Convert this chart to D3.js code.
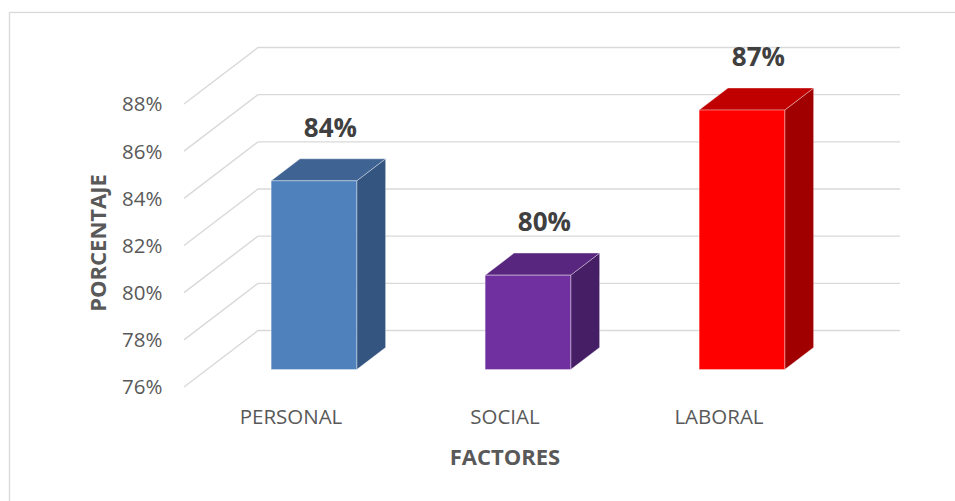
<!DOCTYPE html>
<html>
<head>
<meta charset="utf-8">
<script src="https://cdn.jsdelivr.net/npm/d3@7"></script>
<style>
  html, body { margin: 0; padding: 0; background: #fff; }
  svg { display: block; }
</style>
</head>
<body>
<svg id="chart" width="955" height="501"></svg>
<script>
const categories = ["PERSONAL", "SOCIAL", "LABORAL"];
const values = [84, 80, 87];
const valueLabels = ["84%", "80%", "87%"];
const yTicks = [76, 78, 80, 82, 84, 86, 88];
const yTickLabels = ["76%", "78%", "80%", "82%", "84%", "86%", "88%"];
const frontColors = ["#4F81BD", "#7030A0", "#FF0000"];
const topColors = ["#3F6493", "#58267E", "#C00000"];
const sideColors = ["#34557F", "#461E66", "#A00000"];
const yTitle = "PORCENTAJE";
const xTitle = "FACTORES";

const svg = d3.select("#chart");

// frame
svg.append("rect")
  .attr("x", 9.5).attr("y", 12.5)
  .attr("width", 960).attr("height", 520)
  .attr("fill", "none").attr("stroke", "#D9D9D9").attr("stroke-width", 1.3);

const plotLeft = 184, plotRight = 826;
const x = d3.scaleBand().domain(categories).range([plotLeft, plotRight])
  .paddingInner(0.6).paddingOuter(0.3);
const y = d3.scaleLinear().domain([76, 88]).range([387, 104]);

// depth projection
const DX = 74, DY = -56.5;
const P = (px, v, d) => [px + d * DX, y(v) + d * DY];
const d0 = 0.31, d1 = 0.70;

const grid = svg.append("g")
  .attr("stroke", "#D9D9D9").attr("stroke-width", 1.4).attr("fill", "none");
yTicks.forEach(t => {
  const a = P(plotLeft, t, 0), b = P(plotLeft, t, 1), c = P(plotRight, t, 1);
  grid.append("path").attr("d", d3.line()([a, b, c]));
});

// tick labels
svg.append("g").selectAll("text").data(yTicks).join("text")
  .attr("x", plotLeft - 21.5)
  .attr("y", d => y(d))
  .attr("dy", "0.36em")
  .attr("text-anchor", "end")
  .attr("font-family", "Open Sans, sans-serif")
  .attr("font-size", 20.5)
  .attr("fill", "#595959")
  .text((d, i) => yTickLabels[i]);

// bars
const bars = svg.append("g");
categories.forEach((c, i) => {
  const x0 = x(c), x1 = x(c) + x.bandwidth();
  const v = values[i], base = 76;
  const g = bars.append("g")
    .attr("stroke", "#ffffff").attr("stroke-opacity", 0.35).attr("stroke-width", 1)
    .attr("stroke-linejoin", "round");
  // side face
  g.append("path").attr("fill", sideColors[i]).attr("d", d3.line()([
    P(x1, base, d0), P(x1, base, d1), P(x1, v, d1), P(x1, v, d0)
  ]) + "Z");
  // top face
  g.append("path").attr("fill", topColors[i]).attr("d", d3.line()([
    P(x0, v, d0), P(x1, v, d0), P(x1, v, d1), P(x0, v, d1)
  ]) + "Z");
  // front face
  g.append("path").attr("fill", frontColors[i]).attr("d", d3.line()([
    P(x0, base, d0), P(x1, base, d0), P(x1, v, d0), P(x0, v, d0)
  ]) + "Z");
  // value label
  const lc = P(x0 + x.bandwidth() / 2, v, (d0 + d1) / 2);
  svg.append("text")
    .attr("x", lc[0] + 2)
    .attr("y", lc[1] - 33)
    .attr("text-anchor", "middle")
    .attr("font-family", "Open Sans, sans-serif")
    .attr("font-weight", "bold")
    .attr("font-size", 26)
    .attr("fill", "#404040")
    .text(valueLabels[i]);
});

// category labels
svg.append("g").selectAll("text").data(categories).join("text")
  .attr("x", d => x(d) + x.bandwidth() / 2)
  .attr("y", 424)
  .attr("text-anchor", "middle")
  .attr("font-family", "Open Sans, sans-serif")
  .attr("font-size", 20.5)
  .attr("fill", "#595959")
  .text(d => d);

// axis titles
svg.append("text")
  .attr("x", 505).attr("y", 465)
  .attr("text-anchor", "middle")
  .attr("font-family", "Open Sans, sans-serif")
  .attr("font-weight", "bold")
  .attr("font-size", 22)
  .attr("fill", "#595959")
  .text(xTitle);

svg.append("text")
  .attr("transform", "translate(105.5,243) rotate(-90)")
  .attr("text-anchor", "middle")
  .attr("font-family", "Open Sans, sans-serif")
  .attr("font-weight", "bold")
  .attr("font-size", 22)
  .attr("fill", "#595959")
  .text(yTitle);
</script>
</body>
</html>
